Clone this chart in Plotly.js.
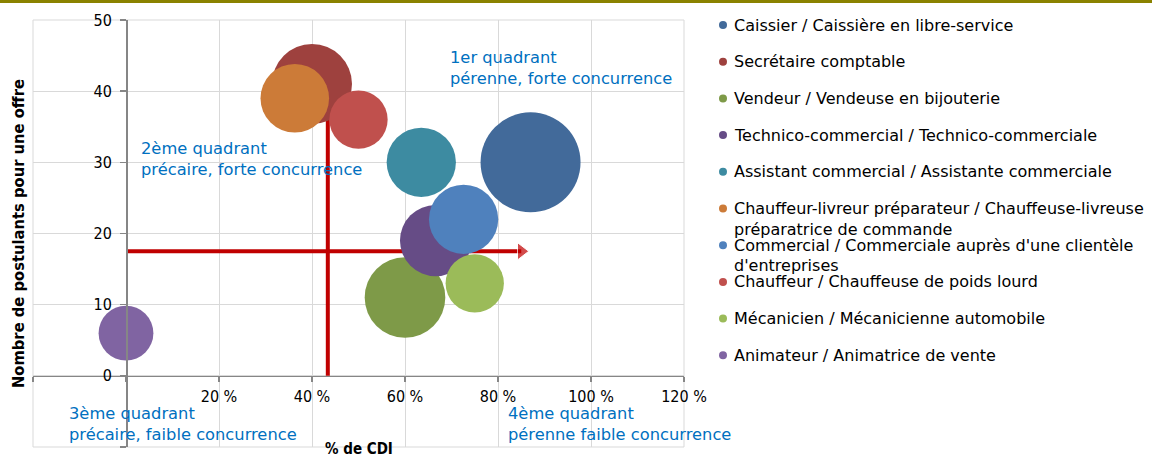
<!DOCTYPE html>
<html><head><meta charset="utf-8">
<script src="https://cdn.plot.ly/plotly-3.0.1.min.js"></script>
<style>
html,body{margin:0;padding:0;background:#fff;overflow:hidden;}
#chart{position:absolute;left:0;top:0;width:1152px;height:457px;}
#band{position:absolute;left:0;top:0;width:1152px;height:3px;background:#8a8200;}
</style></head><body>
<div id="chart"></div><div id="band"></div>
<script>
// ---- data ----
const jobs = [
  "Caissier / Caissière en libre-service",
  "Secrétaire comptable",
  "Vendeur / Vendeuse en bijouterie",
  "Technico-commercial / Technico-commerciale",
  "Assistant commercial / Assistante commerciale",
  "Chauffeur-livreur préparateur / Chauffeuse-livreuse<br>préparatrice de commande",
  "Commercial / Commerciale auprès d'une clientèle<br>d'entreprises",
  "Chauffeur / Chauffeuse de poids lourd",
  "Mécanicien / Mécanicienne automobile",
  "Animateur / Animatrice de vente"
];
const cdiPct     = [87, 40, 60, 66.6, 63.5, 36.3, 72.6, 50, 75, 0];
const applicants = [30, 41, 11, 19, 30, 39, 22, 36, 13, 6];
const bubbleSize = [100, 64, 65, 51, 48, 47, 48, 34, 34, 30];
const colors = ["#426a9a","#9e413e","#7e9a48","#664c86","#3d8ba1","#cc7b38","#4f81bd","#c0504d","#9bbb59","#8064a2"];
const xTickVals = [-20, 0, 20, 40, 60, 80, 100, 120];
const xTickText = ["", "", "20 %", "40 %", "60 %", "80 %", "100 %", "120 %"];
const yTickVals = [-10, 0, 10, 20, 30, 40, 50];
const yTickText = ["", "0", "10", "20", "30", "40", "50"];
const xTitle = "% de CDI";
const yTitle = "Nombre de postulants pour une offre";
const thresholdCdi = 43.4;
const thresholdApplicants = 17.5;
const verticalTop = 40;
const arrowEnd = 85;
const quadrantText = [
  "1er quadrant<br>pérenne, forte concurrence",
  "2ème quadrant<br>précaire, forte concurrence",
  "3ème quadrant<br>précaire, faible concurrence",
  "4ème quadrant<br>pérenne faible concurrence"
];
const quadrantX = [69.2, 2.8, -12.6, 81.7];
const quadrantY = [44.8, 32.0, -5.3, -5.3];

// ---- layout constants ----
const FONT = "'DejaVu Sans Condensed', 'DejaVu Sans', sans-serif";
const TXT = "'DejaVu Sans', sans-serif";
const W = 1152, H = 457;
const M = {l: 33, r: 468, t: 20, b: 10};
const plotW = W - M.l - M.r, plotH = H - M.t - M.b;
const xr = [-20, 120], yr = [-10, 50];

const traces = [];
traces.push({
  x: [thresholdCdi, thresholdCdi], y: [0, verticalTop], mode: "lines",
  line: {color: "#c00000", width: 4}, showlegend: false, hoverinfo: "skip"
});
traces.push({
  x: [0, arrowEnd], y: [thresholdApplicants, thresholdApplicants], mode: "lines+markers",
  line: {color: "#c00000", width: 4},
  marker: {symbol: "triangle-right", size: [0, 15], color: "#c00000"},
  showlegend: false, hoverinfo: "skip"
});
jobs.forEach((name, i) => {
  traces.push({
    type: "scatter", mode: "markers", name: name.replace("<br>", " "),
    x: [cdiPct[i]], y: [applicants[i]],
    marker: {size: [bubbleSize[i]], sizemode: "area", sizeref: 0.02, color: colors[i], line: {width: 0}, opacity: 1},
    showlegend: false
  });
});

const annotations = [];
quadrantText.forEach((t, i) => {
  t.split("<br>").forEach((line, k) => {
    annotations.push({
      xref: "x", yref: "y", x: quadrantX[i], y: quadrantY[i], text: line, yshift: -21 * k,
      xanchor: "left", yanchor: "middle", align: "left", showarrow: false,
      font: {family: TXT, size: 16.3, color: "#0070c0"}
    });
  });
});
annotations.push({
  xref: "paper", yref: "paper", x: 0.5, y: 0, yshift: -2, text: "<b>" + xTitle + "</b>",
  xanchor: "center", yanchor: "middle", showarrow: false,
  font: {family: FONT, size: 15, color: "#000000"}
});
const shapes = [{
  type: "rect", xref: "paper", yref: "paper", x0: 0, x1: 1, y0: 0, y1: 1,
  line: {color: "#d9d9d9", width: 1}, layer: "below"
}];
const legendTop = 25, legendStep = 36.7, legendDotX = 723, legendTextX = 732;
jobs.forEach((name, i) => {
  const ypx = legendTop + legendStep * i;
  const yp = (H - M.b - ypx) / plotH;
  name.split("<br>").forEach((line, k) => {
    annotations.push({
      xref: "paper", yref: "paper", x: (legendTextX - M.l) / plotW, y: yp,
      text: line, xanchor: "left", yanchor: "middle", align: "left", showarrow: false,
      yshift: -20.5 * k,
      font: {family: TXT, size: 16, color: "#000000"}
    });
  });
  shapes.push({
    type: "circle", xref: "paper", yref: "paper", xsizemode: "pixel", ysizemode: "pixel",
    xanchor: (legendDotX - M.l) / plotW, yanchor: yp, x0: -4, x1: 4, y0: -4, y1: 4,
    fillcolor: colors[i], line: {width: 0}
  });
});

const layout = {
  width: W, height: H, margin: M, paper_bgcolor: "#ffffff", plot_bgcolor: "#ffffff",
  showlegend: false, font: {family: FONT, size: 16, color: "#000000"},
  xaxis: {
    range: xr, tickvals: xTickVals, ticktext: xTickText, showgrid: true, gridcolor: "#d9d9d9", gridwidth: 1,
    zeroline: false, showline: true, linecolor: "#868686", linewidth: 1.5,
    ticks: "outside", ticklen: 5, tickcolor: "#868686", tickwidth: 1.5,
    anchor: "free", position: (0 - yr[0]) / (yr[1] - yr[0]),
    tickfont: {family: FONT, size: 16, color: "#000000"},
    automargin: false, fixedrange: true
  },
  yaxis: {
    range: yr, tickvals: yTickVals, ticktext: yTickText, showgrid: true, gridcolor: "#d9d9d9", gridwidth: 1,
    zeroline: false, showline: true, linecolor: "#868686", linewidth: 1.5,
    ticks: "outside", ticklen: 6, tickcolor: "#868686", tickwidth: 1.5, ticklabelstandoff: 5,
    anchor: "free", position: (0 - xr[0]) / (xr[1] - xr[0]),
    tickfont: {family: FONT, size: 16, color: "#000000"},
    title: {text: "<b>" + yTitle + "</b>", font: {family: FONT, size: 16.4, color: "#000000"}, standoff: 63},
    automargin: false, fixedrange: true
  },
  annotations: annotations, shapes: shapes
};
Plotly.newPlot("chart", traces, layout, {displayModeBar: false, staticPlot: true});
</script></body></html>
